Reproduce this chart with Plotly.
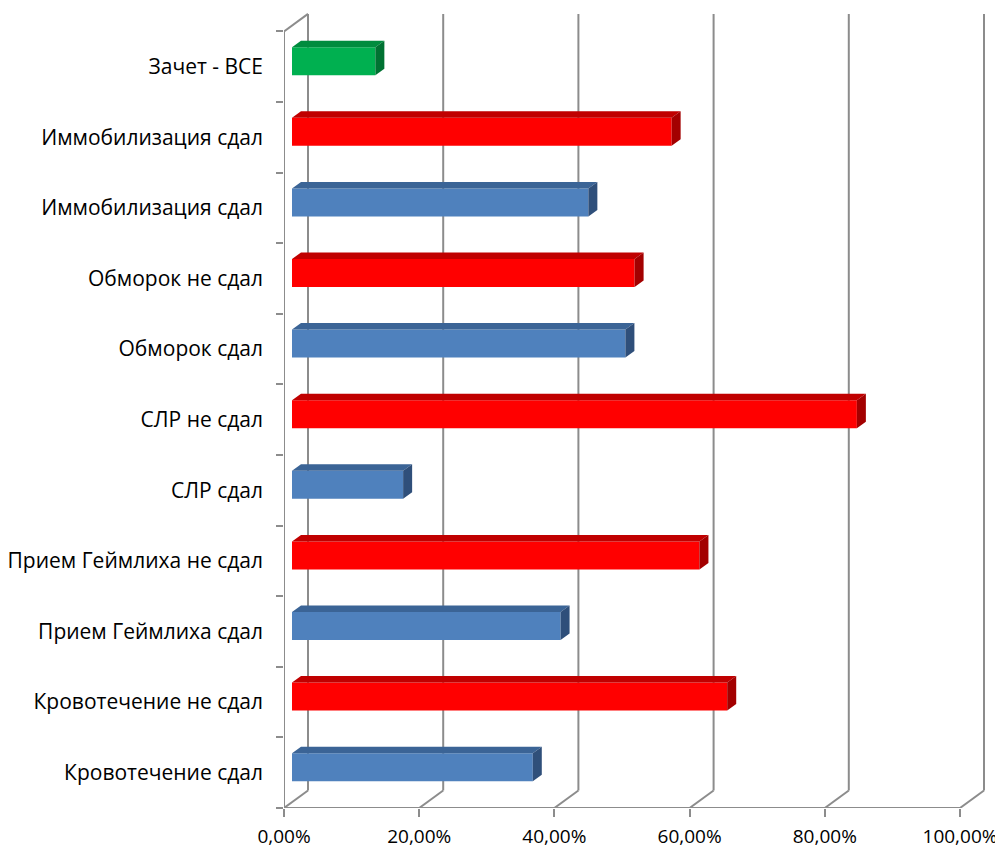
import plotly.graph_objects as go

# ---- data ----
categories = [
    "Кровотечение сдал",
    "Кровотечение не сдал",
    "Прием Геймлиха сдал",
    "Прием Геймлиха не сдал",
    "СЛР сдал",
    "СЛР не сдал",
    "Обморок сдал",
    "Обморок не сдал",
    "Иммобилизация сдал",
    "Иммобилизация сдал",
    "Зачет - ВСЕ",
]
values = [35.62, 64.38, 39.73, 60.27, 16.44, 83.56, 49.32, 50.68, 43.84, 56.16, 12.33]
series = ["blue", "red", "blue", "red", "blue", "red", "blue", "red", "blue", "red", "green"]
x_ticks = [0, 20, 40, 60, 80, 100]
x_tick_labels = ["0,00%", "20,00%", "40,00%", "60,00%", "80,00%", "100,00%"]

# ---- styling / geometry ----
COLORS = {
    "blue": ("#4F81BD", "#3B6496", "#2F4F7A"),
    "red": ("#FF0000", "#C00000", "#A30000"),
    "green": ("#00B050", "#008C3E", "#007232"),
}
GRID = "#8C8C8C"
PX_X = 6.76   # pixels per percent
PX_Y = 70.6   # pixels per category
W, H = 995, 841          # page body has an 8px margin
ML, MR, MT, MB = 276, 13, 2, 41


def off(dx_px, dy_px):
    return dx_px / PX_X, -dy_px / PX_Y


bx, by = off(8, -5.5)      # bar plane offset from front plane
ddx, ddy = off(9, -6.5)    # bar depth
gx, gy = off(24, -17.5)    # back wall offset
bar_h = 28 / PX_Y

n = len(categories)
ypos = list(range(n))
x_max = (W - ML - MR) / PX_X
y_min = -0.5
y_max = y_min + (H - MT - MB) / PX_Y

fig = go.Figure()

# front faces
fig.add_trace(go.Bar(
    orientation="h",
    x=values,
    y=[i + by for i in ypos],
    base=bx,
    width=bar_h,
    marker=dict(color=[COLORS[s][0] for s in series], line=dict(width=0)),
    hoverinfo="skip",
))

# top and side faces
for key in COLORS:
    tx, ty, sx, sy = [], [], [], []
    for i, v, s in zip(ypos, values, series):
        if s != key:
            continue
        top = i + by + bar_h / 2
        bot = i + by - bar_h / 2
        x1 = bx + v
        tx += [bx, x1, x1 + ddx, bx + ddx, bx, None]
        ty += [top, top, top + ddy, top + ddy, top, None]
        sx += [x1, x1, x1 + ddx, x1 + ddx, x1, None]
        sy += [bot, top, top + ddy, bot + ddy, bot, None]
    fig.add_trace(go.Scatter(x=tx, y=ty, mode="lines", fill="toself",
                             fillcolor=COLORS[key][1], line=dict(width=0),
                             hoverinfo="skip"))
    fig.add_trace(go.Scatter(x=sx, y=sy, mode="lines", fill="toself",
                             fillcolor=COLORS[key][2], line=dict(width=0),
                             hoverinfo="skip"))

# walls / gridlines as shapes below traces
shapes = []
line = dict(color=GRID, width=2)
y0f, y1f = -0.5, n - 0.5
for t in x_ticks:
    shapes.append(dict(type="line", x0=t + gx, x1=t + gx, y0=y0f + gy, y1=y1f + gy,
                       line=line, layer="below"))
    shapes.append(dict(type="line", x0=t, x1=t + gx, y0=y0f, y1=y0f + gy,
                       line=line, layer="below"))
shapes.append(dict(type="line", x0=0, x1=x_ticks[-1], y0=y0f, y1=y0f, line=line, layer="below"))
shapes.append(dict(type="line", x0=0, x1=0, y0=y0f, y1=y1f, line=line, layer="below"))
shapes.append(dict(type="line", x0=0, x1=gx, y0=y1f, y1=y1f + gy, line=line, layer="below"))

FONT = "Open Sans"
fig.update_layout(
    width=W, height=H,
    margin=dict(l=ML, r=MR, t=MT, b=MB, pad=0, autoexpand=False),
    paper_bgcolor="white", plot_bgcolor="white",
    showlegend=False,
    shapes=shapes,
    font=dict(family=FONT, size=21, color="black"),
    xaxis=dict(range=[0, x_max], showgrid=False, zeroline=False, showline=False,
               automargin=False,
               tickvals=x_ticks, ticktext=x_tick_labels, ticks="outside",
               ticklen=8, tickwidth=2, tickcolor=GRID, ticklabelstandoff=3,
               tickfont=dict(family=FONT, size=19, color="black")),
    yaxis=dict(range=[y_min, y_max], showgrid=False, zeroline=False, showline=False,
               automargin=False,
               tickvals=ypos, ticktext=categories, ticks="",
               ticklabelstandoff=20,
               tickfont=dict(family=FONT, size=21, color="black"),
               minor=dict(tickvals=[i - 0.5 for i in range(n + 1)], ticks="outside",
                          ticklen=7, tickwidth=2, tickcolor=GRID, showgrid=False)),
)

fig.write_html("out.html")
